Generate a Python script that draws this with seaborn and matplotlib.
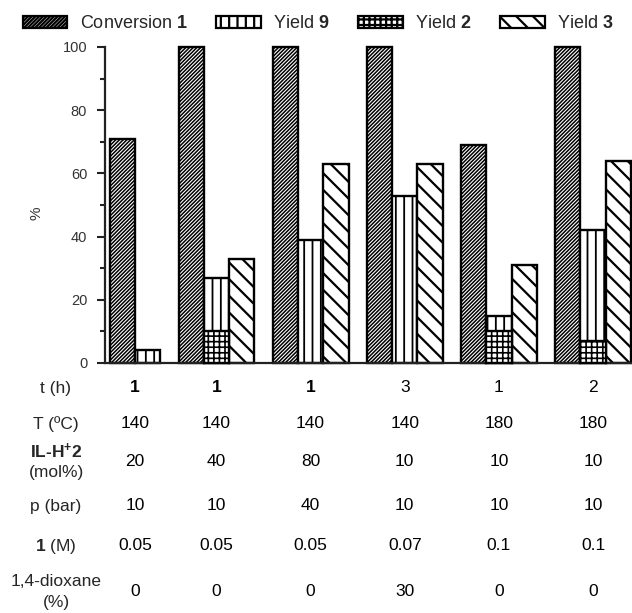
import numpy as np
import pandas as pd
import matplotlib
matplotlib.use("Agg")
import matplotlib.pyplot as plt
import matplotlib.transforms as mtransforms
from matplotlib.patches import Patch
from matplotlib.ticker import AutoMinorLocator
import seaborn as sns

# ---------------- data ----------------
conversion_1 = [71, 100, 100, 100, 69, 100]
yield_9 = [4, 27, 39, 53, 15, 42]
yield_2 = [np.nan, 10, np.nan, np.nan, 10, 7]
yield_3 = [np.nan, 33, 63, 63, 31, 64]

series_labels = ["Conversion $\\mathbf{1}$", "Yield $\\mathbf{9}$",
                 "Yield $\\mathbf{2}$", "Yield $\\mathbf{3}$"]
y_ticks = [0, 20, 40, 60, 80, 100]

t_h = ["1", "1", "1", "3", "1", "2"]
T_C = ["140", "140", "140", "140", "180", "180"]
il_h2 = ["20", "40", "80", "10", "10", "10"]
p_bar = ["10", "10", "40", "10", "10", "10"]
conc_1 = ["0.05", "0.05", "0.05", "0.07", "0.1", "0.1"]
dioxane = ["0", "0", "0", "30", "0", "0"]
row_labels = [("t (h)",), ("T (ºC)",), ("IL-H$^{\\mathbf{+}}$2", "(mol%)"),
              ("p (bar)",), ("$\\mathbf{1}$ (M)",), ("1,4-dioxane", "(%)")]

# ---------------- style ----------------
sns.set_style("ticks")
plt.rcParams["font.family"] = ["Liberation Sans", "DejaVu Sans"]
plt.rcParams["mathtext.fontset"] = "custom"
plt.rcParams["mathtext.rm"] = "Liberation Sans"
plt.rcParams["mathtext.bf"] = "Liberation Sans:bold"
plt.rcParams["mathtext.it"] = "Liberation Sans:italic"
plt.rcParams["hatch.linewidth"] = 1.2
plt.rcParams["hatch.color"] = "black"

W, H = 632, 613
fig = plt.figure(figsize=(W / 100, H / 100), dpi=100)
ax = fig.add_axes([105 / W, 1 - 363 / H, (W - 105) / W, (363 - 47) / H])

# layout (in bar-width units)
n = len(conversion_1)
first_center = 1.19
centers = np.r_[first_center, 4.41 + 3.725 * np.arange(n - 1)]

hatches = {"conv": "/////////", "y9": "||", "y2": "+++", "y3": "\\\\"}
hatch_lw = {"conv": 1.1, "y9": 1.3, "y2": 1.2, "y3": 1.6}

# bar positions: series present in each group are packed around the center
rows = []
for i in range(n):
    present = [("conv", conversion_1[i]), ("y9", yield_9[i])]
    if not np.isnan(yield_3[i]):
        present.append(("y3", yield_3[i]))
    k = len(present)
    offs = np.arange(k) - (k - 1) / 2
    for (name, v), o in zip(present, offs):
        rows.append(dict(series=name, x=centers[i] + o, value=v))
        if name == "y9" and not np.isnan(yield_2[i]):
            rows.append(dict(series="y2", x=centers[i] + o, value=yield_2[i]))
df = pd.DataFrame(rows)

for name in ["conv", "y9", "y3", "y2"]:
    plt.rcParams["hatch.linewidth"] = hatch_lw[name]
    sub = df[df.series == name]
    ux = np.unique(sub.x)
    mind = np.min(np.diff(ux)) if len(ux) > 1 else 1.0
    sns.barplot(data=sub, x="x", y="value", native_scale=True, width=1.0 / mind,
                color="white", saturation=1, errorbar=None, ax=ax,
                edgecolor="black", linewidth=1.7, hatch=hatches[name],
                clip_on=False, zorder=3 if name == "y2" else 2)

ax.set_xlim(0, 20.85)
ax.set_ylim(0, 100)
ax.set_yticks(y_ticks)
ax.yaxis.set_minor_locator(AutoMinorLocator(2))
ax.tick_params(axis="y", which="major", length=5.8, width=1.5, direction="out",
               labelsize=10.5, labelcolor="#333333", pad=7, color="#222222")
ax.tick_params(axis="y", which="minor", length=3.6, width=1.5, direction="out",
               color="#222222")
ax.tick_params(axis="x", bottom=False, labelbottom=False)
ax.set_xlabel("")
ax.set_ylabel("%", fontsize=11, color="#333333")
ax.yaxis.set_label_coords(-0.117, 0.475)
for s in ["top", "right"]:
    ax.spines[s].set_visible(False)
for s in ["left", "bottom"]:
    ax.spines[s].set_linewidth(1.6)
    ax.spines[s].set_color("#222222")

# legend
handles = []
for k in ["conv", "y9", "y2", "y3"]:
    plt.rcParams["hatch.linewidth"] = hatch_lw[k]
    handles.append(Patch(facecolor="white", edgecolor="black", linewidth=1.6,
                         hatch=hatches[k]))
fig.legend(handles, series_labels, ncol=4, loc="center left",
           bbox_to_anchor=(23 / W, 1 - 24 / H), frameon=False, fontsize=13,
           handlelength=2.45, handleheight=0.67, handletextpad=0.7,
           columnspacing=1.6, borderpad=0, borderaxespad=0)

# table below the axis
trans = mtransforms.blended_transform_factory(ax.transData, fig.transFigure)
table_rows = [t_h, T_C, il_h2, p_bar, conc_1, dioxane]
row_y = [388, 424, 462, 506, 546, 592]
fs = 12.5
for vals, py, lab in zip(table_rows, row_y, row_labels):
    for i, v in enumerate(vals):
        wt = "bold" if (vals is t_h and v == "1" and i < 3) else "normal"
        ax.text(centers[i], 1 - py / H, v, transform=trans, ha="center", va="center",
                fontsize=fs, fontweight=wt, color="black")
    if len(lab) == 1:
        fig.text(56 / W, 1 - py / H, lab[0], ha="center", va="center", fontsize=fs)
    else:
        fig.text(56 / W, 1 - (py - 11) / H, lab[0], ha="center", va="center", fontsize=fs,
                 fontweight="bold" if "IL" in lab[0] else "normal")
        fig.text(56 / W, 1 - (py + 11) / H, lab[1], ha="center", va="center", fontsize=fs)

fig.savefig("out.png", dpi=100)
